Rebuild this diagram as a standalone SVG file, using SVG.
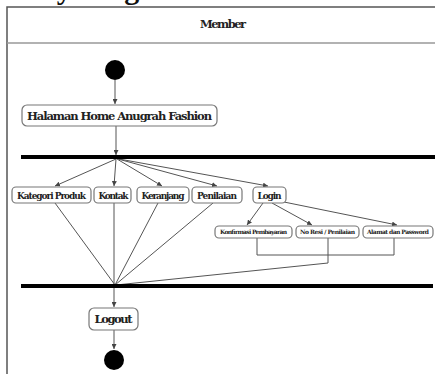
<svg xmlns="http://www.w3.org/2000/svg" width="435" height="374" viewBox="0 0 435 374">
<style>
.box{fill:#fff;stroke:#777;stroke-width:1.2}
.t{font-family:"DejaVu Serif","Liberation Serif",serif;font-weight:bold;fill:#222;text-anchor:middle}
.c{fill:none;stroke:#555;stroke-width:1}
.bar{fill:#000}
</style>
<defs>
<marker id="ah" markerUnits="userSpaceOnUse" markerWidth="5" markerHeight="5" refX="5" refY="2.5" orient="auto"><path d="M0,0 L5,2.5 L0,5 z" fill="#444"/></marker>
</defs>
<rect x="0" y="0" width="435" height="374" fill="#fff"/>
<text x="-30" y="-1" style="font-family:'Liberation Serif',serif;font-weight:bold;font-size:30px;fill:#111">Activity Diagram Member</text>
<g id="frame">
<path d="M7,374 V7 H435" fill="none" stroke="#555" stroke-width="1.5"/>
<line x1="7" y1="43" x2="435" y2="43" stroke="#999" stroke-width="1.5"/>
<text class="t" x="223" y="28" font-size="11.5" textLength="46">Member</text>
</g>
<g id="connectors">
<line class="c" x1="115" y1="80" x2="115" y2="104" marker-end="url(#ah)"/>
<line class="c" x1="116" y1="126" x2="116" y2="155" marker-end="url(#ah)"/>
<line class="c" x1="116" y1="159" x2="55" y2="186" marker-end="url(#ah)"/>
<line class="c" x1="116" y1="159" x2="114" y2="186" marker-end="url(#ah)"/>
<line class="c" x1="117" y1="159" x2="162" y2="186" marker-end="url(#ah)"/>
<line class="c" x1="118" y1="159" x2="217" y2="186" marker-end="url(#ah)"/>
<line class="c" x1="119" y1="159" x2="268" y2="186" marker-end="url(#ah)"/>
<line class="c" x1="263" y1="203" x2="247" y2="225" marker-end="url(#ah)"/>
<line class="c" x1="272" y1="203" x2="312" y2="225" marker-end="url(#ah)"/>
<line class="c" x1="284" y1="202" x2="397" y2="225" marker-end="url(#ah)"/>
<polyline class="c" points="257,238 257,255 394,255 394,238"/>
<polyline class="c" points="328,238 328,263 116,285"/>
<line class="c" x1="55" y1="203" x2="115" y2="285"/>
<line class="c" x1="114" y1="203" x2="114" y2="285"/>
<line class="c" x1="158" y1="203" x2="115" y2="285"/>
<line class="c" x1="213" y1="203" x2="115" y2="285"/>
<line class="c" x1="114" y1="288" x2="114" y2="307" marker-end="url(#ah)"/>
<line class="c" x1="114" y1="330" x2="114" y2="349" marker-end="url(#ah)"/>
</g>
<g id="start"><circle cx="115" cy="70" r="10" fill="#000"/></g>
<g id="home">
<rect class="box" x="22" y="105" width="195" height="21" rx="5"/>
<text class="t" x="119.5" y="119.5" font-size="11.5" textLength="185">Halaman Home Anugrah Fashion</text>
</g>
<g id="fork"><rect class="bar" x="21" y="155" width="414" height="4"/></g>
<g id="kategori">
<rect class="box" x="12" y="187" width="79" height="16" rx="4"/>
<text class="t" x="51.5" y="198.5" font-size="9" textLength="69">Kategori Produk</text>
</g>
<g id="kontak">
<rect class="box" x="94" y="187" width="37" height="16" rx="4"/>
<text class="t" x="113.5" y="198.5" font-size="9" textLength="30">Kontak</text>
</g>
<g id="keranjang">
<rect class="box" x="137" y="187" width="52" height="16" rx="4"/>
<text class="t" x="163" y="198.5" font-size="9" textLength="43">Keranjang</text>
</g>
<g id="penilaian">
<rect class="box" x="192" y="187" width="50" height="16" rx="4"/>
<text class="t" x="217" y="198.5" font-size="9" textLength="40">Penilaian</text>
</g>
<g id="login">
<rect class="box" x="253" y="187" width="33" height="16" rx="4"/>
<text class="t" x="269.5" y="198.5" font-size="9" textLength="24">Login</text>
</g>
<g id="konfirmasi">
<rect class="box" x="215" y="226" width="77" height="12" rx="4"/>
<text class="t" x="253.5" y="234.3" font-size="6" textLength="67">Konfirmasi Pembayaran</text>
</g>
<g id="noresi">
<rect class="box" x="296" y="226" width="63" height="12" rx="4"/>
<text class="t" x="327.5" y="234.3" font-size="6" textLength="55">No Resi / Penilaian</text>
</g>
<g id="alamat">
<rect class="box" x="363" y="226" width="70" height="12" rx="4"/>
<text class="t" x="398" y="234.3" font-size="6" textLength="62">Alamat dan Password</text>
</g>
<g id="join"><rect class="bar" x="21" y="284" width="412" height="4"/></g>
<g id="logout">
<rect class="box" x="89" y="308" width="49" height="22" rx="5"/>
<text class="t" x="113.5" y="323" font-size="11.5" textLength="38">Logout</text>
</g>
<g id="end"><circle cx="114" cy="360" r="10" fill="#000"/></g>
</svg>
